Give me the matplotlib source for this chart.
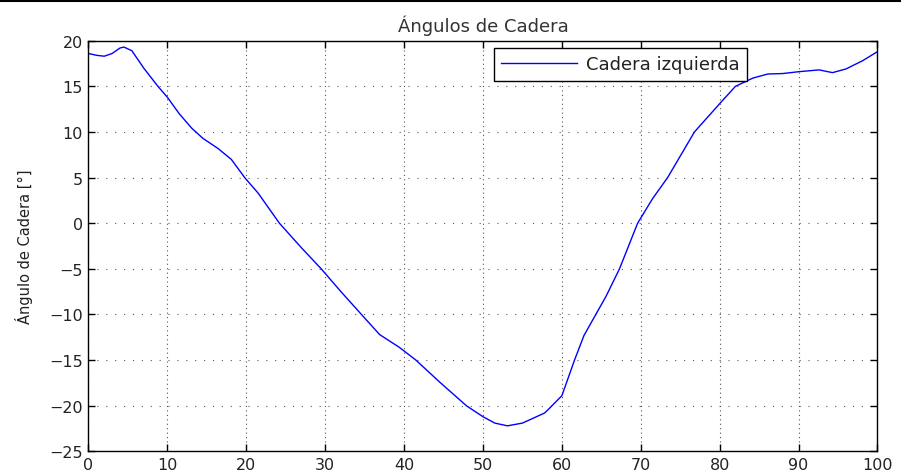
import numpy as np
import matplotlib.pyplot as plt
from matplotlib.lines import Line2D

# Hip angle over the gait cycle
ciclo = [0, 1, 2, 3, 4, 4.5, 5.5, 7, 8.8, 10, 11.5, 13.1, 14.5, 16.4, 18.1,
         19.8, 21.5, 24.2, 27, 29.5, 32, 34.6, 36.9, 39.4, 41.5, 44.5, 47.9,
         50, 51.5, 53.1, 55, 57.8, 58.4, 60, 61.6, 62.8, 64.3, 65.6, 67.3,
         69.6, 71.5, 73.4, 76.8, 80, 82, 84.2, 86.1, 88, 90, 92.6, 94.3, 96,
         98.1, 100]
cadera_izq = [18.6, 18.4, 18.3, 18.6, 19.2, 19.3, 18.9, 17.0, 15.0, 13.8,
              12.0, 10.4, 9.3, 8.2, 7.0, 5.0, 3.3, 0.0, -2.7, -5.0, -7.5,
              -10.0, -12.2, -13.6, -15.0, -17.4, -20.0, -21.2, -21.9, -22.2,
              -21.9, -20.8, -20.3, -18.9, -15.0, -12.3, -10.0, -8.0, -5.0,
              0.0, 2.7, 5.0, 10.0, 13.1, 15.0, 15.9, 16.35, 16.4, 16.6, 16.8,
              16.5, 16.9, 17.8, 18.8]

xticks = np.arange(0, 101, 10)
yticks = np.arange(-25, 21, 5)

plt.rcParams['font.family'] = ['DejaVu Sans']

fig = plt.figure(figsize=(9.01, 4.77), dpi=100)
ax = fig.add_axes([0.0982, 0.0516, 0.8757, 0.861])

ax.plot(ciclo, cadera_izq, color='#0000ff', linewidth=1.0, label='Cadera izquierda')

ax.set_xlim(0, 100)
ax.set_ylim(-25, 20)
ax.set_xticks(xticks)
ax.set_yticks(yticks)
ax.tick_params(direction='in', top=True, right=True, length=5, width=1,
               labelsize=11.5, labelcolor='#222222', pad=4)
for s in ax.spines.values():
    s.set_linewidth(1.0)

ax.xaxis.grid(True, linestyle=(0, (1, 3)), color='#555555', linewidth=0.8)
ax.yaxis.grid(True, linestyle=(0, (1, 7)), color='#555555', linewidth=0.8)

ax.set_title('Ángulos de Cadera', fontsize=13, color='#333333', pad=7)
ax.set_ylabel('Ángulo de Cadera [°]', fontsize=10.5, color='#222222', labelpad=12)

leg = ax.legend(loc='upper right', bbox_to_anchor=(0.8346, 0.982),
                borderaxespad=0, fontsize=13, handlelength=4.2,
                handletextpad=0.5, borderpad=0.4,
                fancybox=False, framealpha=1, edgecolor='black')
leg.get_frame().set_linewidth(1.0)
for t in leg.get_texts():
    t.set_color('#222222')

fig.add_artist(Line2D([0, 1], [1 - 1.5 / 477, 1 - 1.5 / 477],
                      transform=fig.transFigure, color='black', linewidth=1.5))

fig.savefig('out.png', dpi=100)
